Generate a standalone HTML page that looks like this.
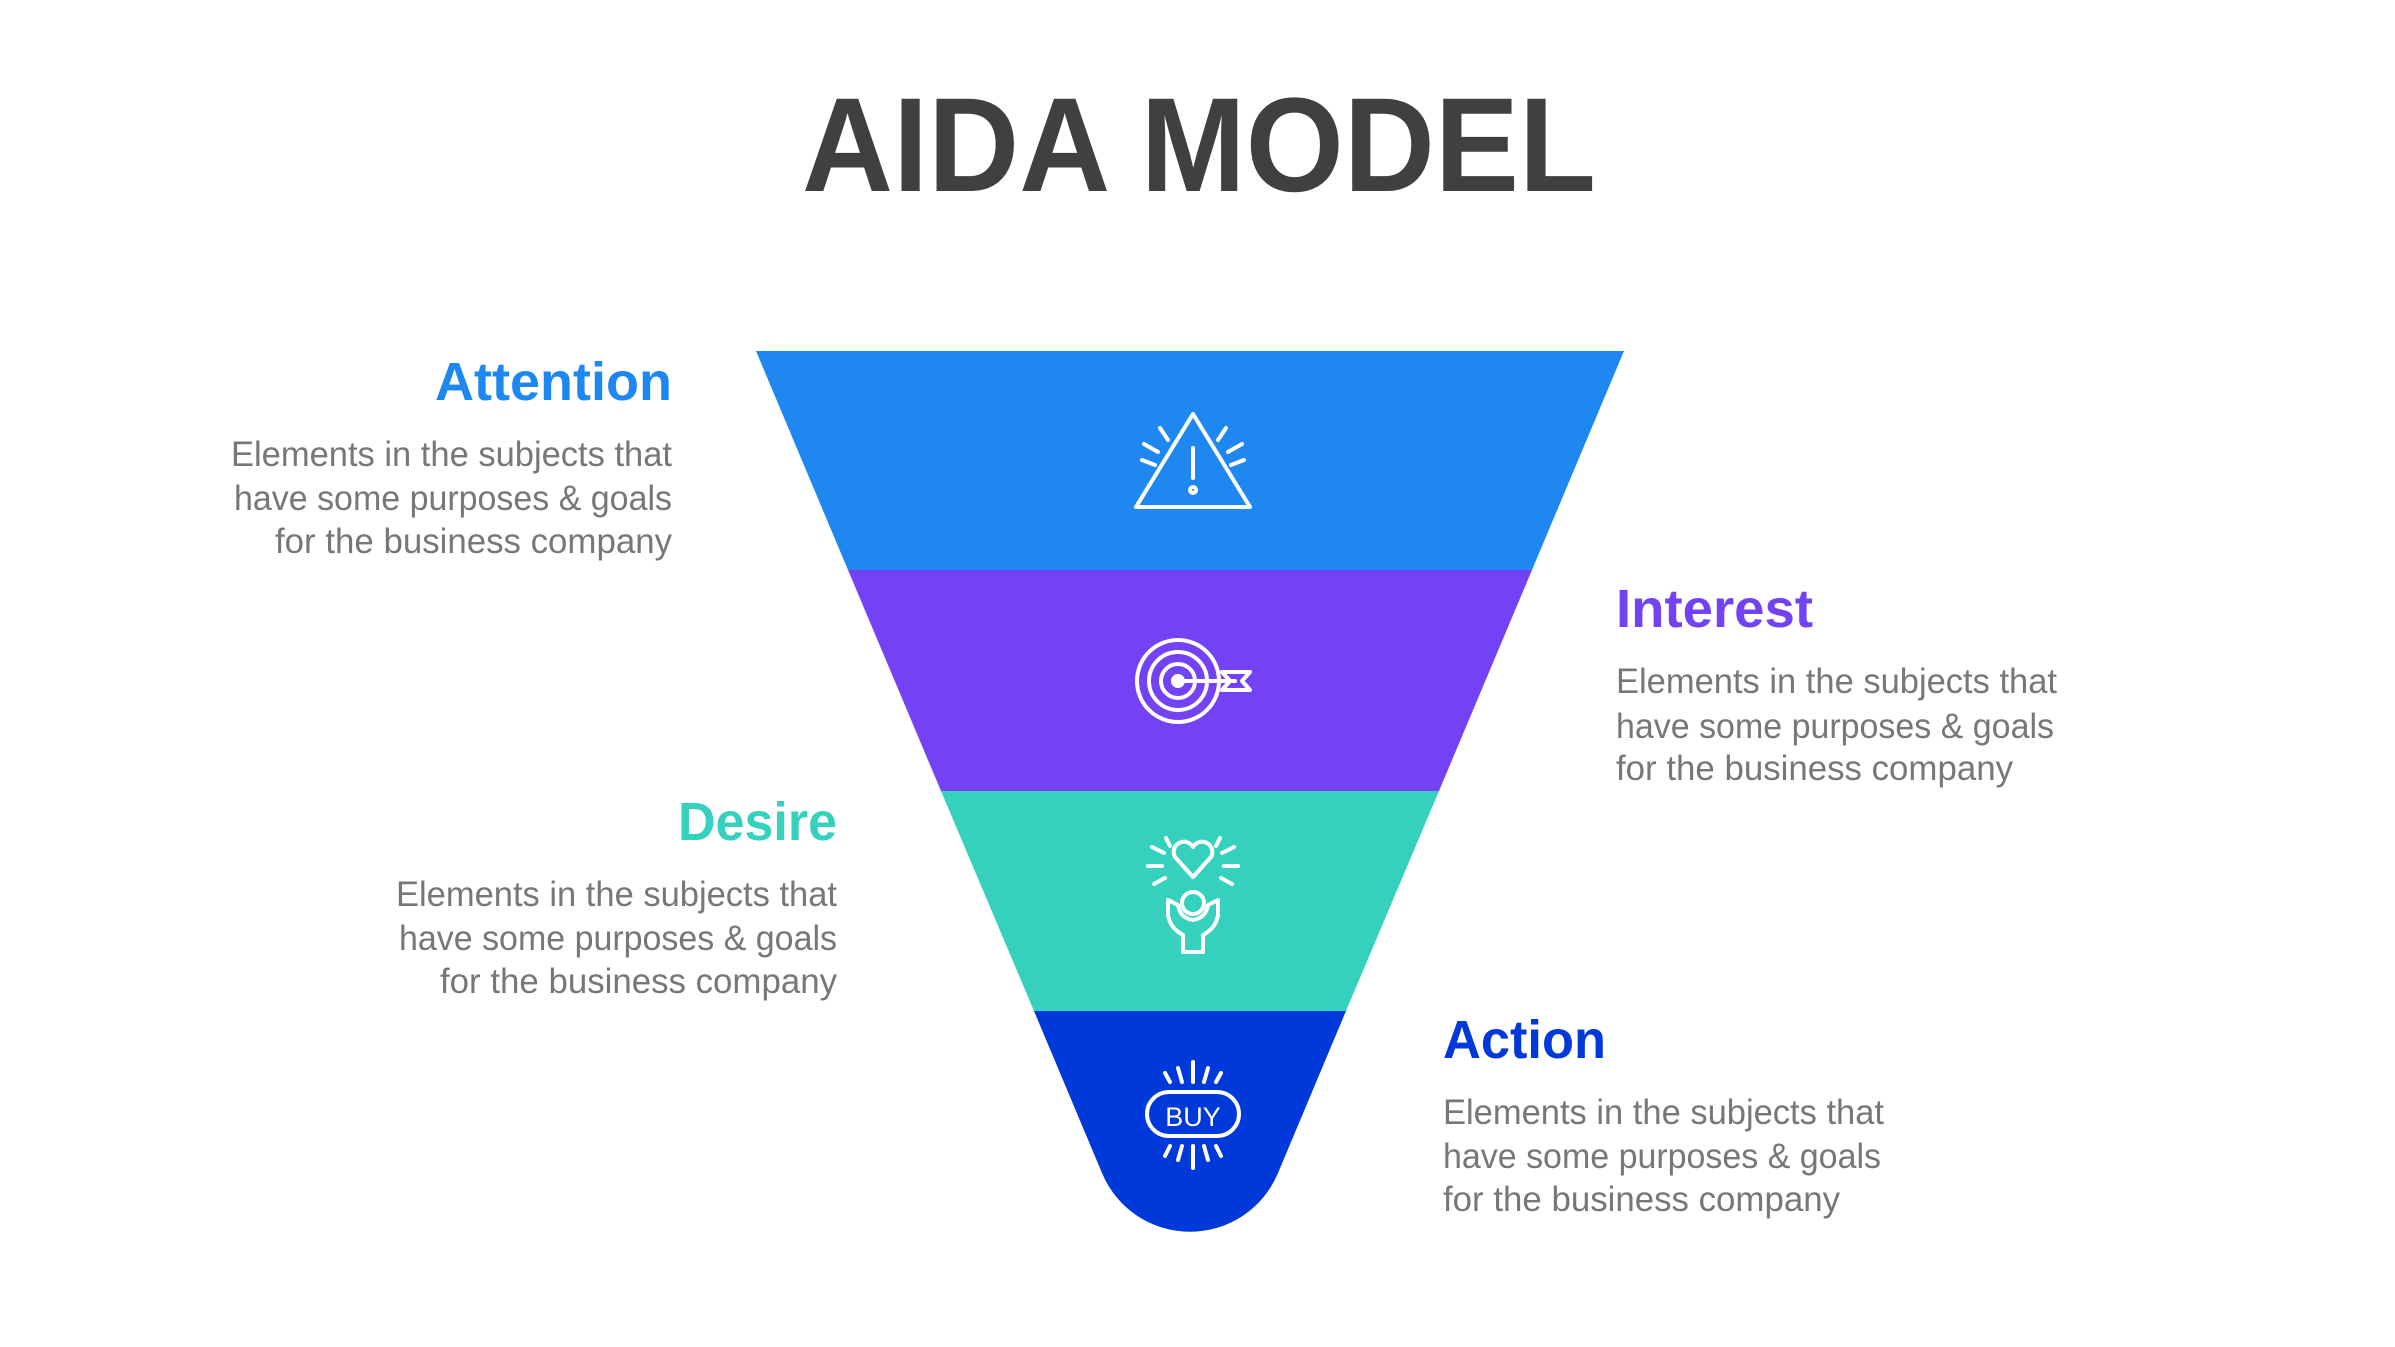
<!DOCTYPE html>
<html><head><meta charset="utf-8"><style>html,body{margin:0;padding:0;background:#fff;}svg{display:block}</style></head>
<body>
<svg width="2395" height="1347" viewBox="0 0 2395 1347" xmlns="http://www.w3.org/2000/svg" font-family="'Liberation Sans', sans-serif">
<rect width="2395" height="1347" fill="#fff"/>
<text x="1199" y="191" text-anchor="middle" font-size="134" font-weight="bold" fill="#404040" textLength="794" lengthAdjust="spacingAndGlyphs">AIDA MODEL</text>

<!-- funnel -->
<polygon points="756,351 1624,351 1532,570 848,570" fill="#1F88F0"/>
<polygon points="848,570 1532,570 1439,791 941,791" fill="#7442F5"/>
<polygon points="941,791 1439,791 1346,1011 1034,1011" fill="#36D1BC"/>
<path d="M1034,1011 L1346,1011 L1278,1173 A95.3,95.3 0 0 1 1102,1173 Z" fill="#0039D9"/>

<g fill="none" stroke="#fff" stroke-width="4" stroke-linecap="round" stroke-linejoin="round">
<!-- warning -->
<polygon points="1193,414 1250,507 1136,507"/>
<line x1="1193" y1="448" x2="1193" y2="478"/>
<circle cx="1193" cy="490" r="3"/>
<line x1="1168" y1="440" x2="1160" y2="428"/><line x1="1158" y1="452" x2="1144" y2="444"/><line x1="1155" y1="465" x2="1142" y2="460"/>
<line x1="1218" y1="440" x2="1226" y2="428"/><line x1="1228" y1="452" x2="1242" y2="444"/><line x1="1231" y1="465" x2="1244" y2="460"/>
<!-- target -->
<circle cx="1178" cy="681" r="41"/><circle cx="1178" cy="681" r="29"/><circle cx="1178" cy="681" r="17"/>
<circle cx="1178" cy="681" r="5" fill="#fff"/>
<line x1="1178" y1="681" x2="1235" y2="681"/>
<polyline points="1222,672 1250,672 1242,681 1250,690 1222,690 1230,681 1222,672"/>
<!-- heart/hand -->
<path d="M1193,877 L1175,857 A10,10 0 0 1 1193,847 A10,10 0 0 1 1211,857 Z"/>
<circle cx="1193" cy="903" r="11"/>
<path d="M1168,900 L1168,915 Q1170,928 1183,935 L1183,952 L1203,952 L1203,935 Q1216,928 1218,915 L1218,900 L1208,905 Q1206,918 1193,920 Q1180,918 1178,905 Z"/>
<line x1="1164" y1="853" x2="1152" y2="847"/><line x1="1162" y1="866" x2="1148" y2="866"/><line x1="1165" y1="878" x2="1154" y2="884"/><line x1="1170" y1="846" x2="1166" y2="838"/>
<line x1="1222" y1="853" x2="1234" y2="847"/><line x1="1224" y1="866" x2="1238" y2="866"/><line x1="1221" y1="878" x2="1232" y2="884"/><line x1="1216" y1="846" x2="1220" y2="838"/>
<!-- buy -->
<rect x="1147" y="1092" width="92" height="44" rx="22"/>
<line x1="1193" y1="1062" x2="1193" y2="1082"/><line x1="1178" y1="1068" x2="1182" y2="1082"/><line x1="1208" y1="1068" x2="1204" y2="1082"/><line x1="1165" y1="1073" x2="1170" y2="1082"/><line x1="1221" y1="1073" x2="1216" y2="1082"/>
<line x1="1193" y1="1146" x2="1193" y2="1168"/><line x1="1178" y1="1160" x2="1182" y2="1146"/><line x1="1208" y1="1160" x2="1204" y2="1146"/><line x1="1165" y1="1156" x2="1170" y2="1146"/><line x1="1221" y1="1156" x2="1216" y2="1146"/>
</g>
<text x="1193" y="1126" text-anchor="middle" font-size="27" fill="#fff">BUY</text>

<!-- labels -->
<g font-weight="bold" font-size="54">
<text x="672" y="400" text-anchor="end" fill="#1F88F0" textLength="237" lengthAdjust="spacingAndGlyphs">Attention</text>
<text x="1616" y="627" fill="#7442F5" textLength="197" lengthAdjust="spacingAndGlyphs">Interest</text>
<text x="837" y="840" text-anchor="end" fill="#36D1BC" textLength="159" lengthAdjust="spacingAndGlyphs">Desire</text>
<text x="1443" y="1058" fill="#0039D9" textLength="163" lengthAdjust="spacingAndGlyphs">Action</text>
</g>
<g font-size="35" fill="#777">
<text x="672" y="466" text-anchor="end" textLength="441" lengthAdjust="spacingAndGlyphs">Elements in the subjects that</text>
<text x="672" y="510" text-anchor="end" textLength="438" lengthAdjust="spacingAndGlyphs">have  some purposes &amp; goals</text>
<text x="672" y="553" text-anchor="end" textLength="397" lengthAdjust="spacingAndGlyphs">for the  business company</text>

<text x="1616" y="693" textLength="441" lengthAdjust="spacingAndGlyphs">Elements in the subjects that</text>
<text x="1616" y="738" textLength="438" lengthAdjust="spacingAndGlyphs">have  some purposes &amp; goals</text>
<text x="1616" y="780" textLength="397" lengthAdjust="spacingAndGlyphs">for the  business company</text>

<text x="837" y="906" text-anchor="end" textLength="441" lengthAdjust="spacingAndGlyphs">Elements in the subjects that</text>
<text x="837" y="950" text-anchor="end" textLength="438" lengthAdjust="spacingAndGlyphs">have  some purposes &amp; goals</text>
<text x="837" y="993" text-anchor="end" textLength="397" lengthAdjust="spacingAndGlyphs">for the  business company</text>

<text x="1443" y="1124" textLength="441" lengthAdjust="spacingAndGlyphs">Elements in the subjects that</text>
<text x="1443" y="1168" textLength="438" lengthAdjust="spacingAndGlyphs">have  some purposes &amp; goals</text>
<text x="1443" y="1211" textLength="397" lengthAdjust="spacingAndGlyphs">for the  business company</text>
</g>
</svg>
</body></html>
